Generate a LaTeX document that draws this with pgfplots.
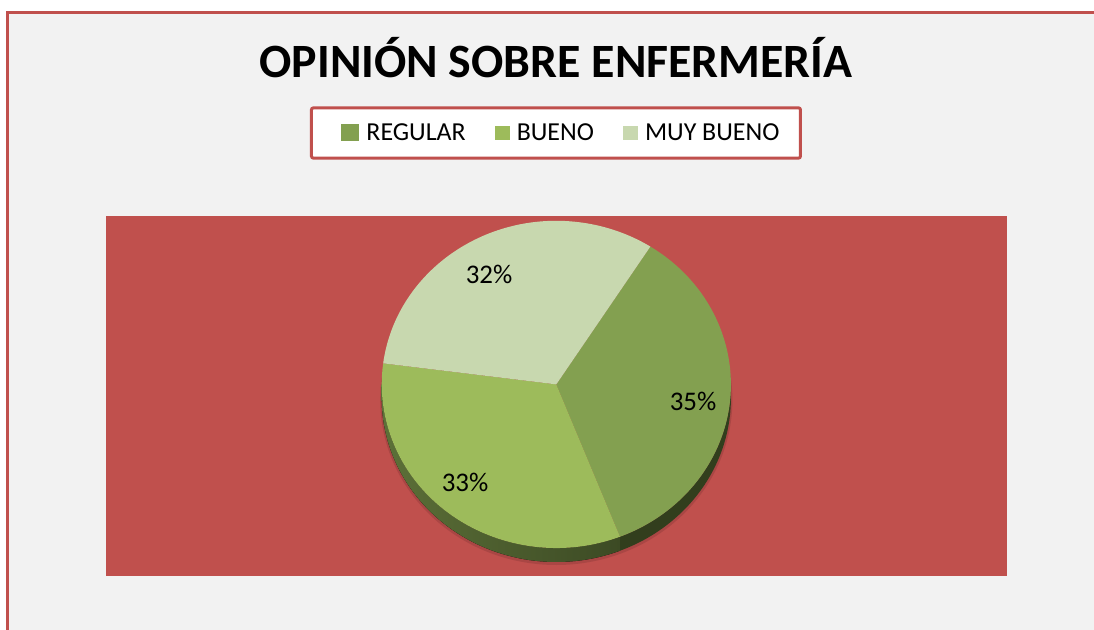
\documentclass[border=0pt]{standalone}
\usepackage{fontspec}
\setmainfont{Carlito}
\usepackage{pgfplots}
\usepackage{pgfplotstable}
\pgfplotsset{compat=1.18}

\definecolor{bggray}{RGB}{242,242,242}
\definecolor{chartred}{RGB}{192,80,77}
\definecolor{regular}{RGB}{131,160,80}
\definecolor{bueno}{RGB}{157,187,91}
\definecolor{muybueno}{RGB}{200,216,175}
\definecolor{sidedark}{RGB}{50,62,29}
\definecolor{sidemid}{RGB}{60,74,36}
\definecolor{sidelight}{RGB}{92,112,56}

% opinion shares (percent)
\pgfplotstableread{
cat value
REGULAR 35
BUENO 33
{MUY BUENO} 32
}\piedata

\pgfplotstablegetelem{0}{value}\of\piedata \edef\vA{\pgfplotsretval}
\pgfplotstablegetelem{1}{value}\of\piedata \edef\vB{\pgfplotsretval}
\pgfplotstablegetelem{2}{value}\of\piedata \edef\vC{\pgfplotsretval}
% slices run clockwise from the first slice angle
\pgfmathsetmacro\aA{57.4}
\pgfmathsetmacro\aB{\aA-3.6*\vA}
\pgfmathsetmacro\aC{\aB-3.6*\vB}
\pgfmathsetmacro\aD{\aC-3.6*\vC}
\pgfmathsetmacro\aBs{\aB+360}
% pie geometry (axis units = bp)
\def\cx{556.3}\def\cy{245.6}\def\rx{174.6}\def\ry{163.6}\def\th{14}
\pgfmathsetmacro\cys{\cy-\th-1.5}
\pgfmathsetmacro\rxs{\rx+1.5}
\pgfmathsetmacro\rys{\ry+1.5}

\begin{document}
\begin{tikzpicture}
\begin{axis}[
    scale only axis,
    width=901bp, height=360bp,
    xmin=106, xmax=1007, ymin=54, ymax=414,
    enlargelimits=false,
    hide axis,
    clip=false,
    legend columns=3,
    legend cell align=left,
    legend image code/.code={\fill[#1, sharp corners] (0bp,-7bp) rectangle (15bp,7bp);},
    legend style={
        at={(axis description cs:0.4994,1.2306)}, anchor=center,
        draw=chartred, line width=3bp, fill=white, rounded corners=2bp,
        font=\fontsize{26}{31}\selectfont,
        nodes={inner sep=0pt},
        inner xsep=21bp, inner ysep=16bp,
        column sep=7bp,
        /tikz/every even column/.append style={column sep=29bp},
    },
]
% chart area and frame
\fill[white] (axis cs:0,0) rectangle (axis cs:1100,630);
\fill[bggray] (axis cs:8,0) rectangle (axis cs:1100,617.8);
\fill[chartred] (axis cs:6.5,0) rectangle (axis cs:9.5,619.2);
\fill[chartred] (axis cs:6.5,616.4) rectangle (axis cs:1100,619.2);
% plot area
\fill[chartred] (axis cs:106,54) rectangle (axis cs:1007,414);

% soft shadow under the pie
\fill[chartred!75!black, opacity=0.45] (axis cs:\cx,\cys) ellipse[x radius=\rxs bp, y radius=\rys bp];

% pie side (3-D rim)
\fill[left color=sidelight, right color=sidemid]
    (axis cs:\cx,\cy) ++(180:\rx bp and \ry bp)
    arc[start angle=180, end angle=\aBs, x radius=\rx bp, y radius=\ry bp]
    -- ++(axis direction cs:0,-\th)
    arc[start angle=\aBs, end angle=180, x radius=\rx bp, y radius=\ry bp] -- cycle;
\fill[sidedark]
    (axis cs:\cx,\cy) ++(\aBs:\rx bp and \ry bp)
    arc[start angle=\aBs, end angle=360, x radius=\rx bp, y radius=\ry bp]
    -- ++(axis direction cs:0,-\th)
    arc[start angle=360, end angle=\aBs, x radius=\rx bp, y radius=\ry bp] -- cycle;

% pie slices
\fill[regular] (axis cs:\cx,\cy) -- ++(\aA:\rx bp and \ry bp)
    arc[start angle=\aA, end angle=\aB, x radius=\rx bp, y radius=\ry bp] -- cycle;
\fill[bueno] (axis cs:\cx,\cy) -- ++(\aB:\rx bp and \ry bp)
    arc[start angle=\aB, end angle=\aC, x radius=\rx bp, y radius=\ry bp] -- cycle;
\fill[muybueno] (axis cs:\cx,\cy) -- ++(\aC:\rx bp and \ry bp)
    arc[start angle=\aC, end angle=\aD, x radius=\rx bp, y radius=\ry bp] -- cycle;

% data labels
\node[anchor=base, font=\fontsize{27}{32}\selectfont] at (axis cs:693,219.3) {\vA\%};
\node[anchor=base, font=\fontsize{27}{32}\selectfont] at (axis cs:465,138.3) {\vB\%};
\node[anchor=base, font=\fontsize{27}{32}\selectfont] at (axis cs:489,346.7) {\vC\%};

% title
\node[anchor=base, font=\bfseries\fontsize{48}{58}\selectfont] at (axis cs:556,553) {OPINIÓN SOBRE ENFERMERÍA};

\addlegendimage{legend image code/.code={\path (-9bp,0bp); \fill[regular, sharp corners] (0bp,-7bp) rectangle (15bp,7bp);}}
\addlegendentry{REGULAR}
\addlegendimage{fill=bueno, draw=none}
\addlegendentry{BUENO}
\addlegendimage{fill=muybueno, draw=none}
\addlegendentry{MUY BUENO}
\end{axis}
% page = 1094 x 630 bp (axis lower left sits at 106,54)
\pgfresetboundingbox
\path (-106bp,-54bp) rectangle (988bp,576bp);
\end{tikzpicture}
\end{document}
